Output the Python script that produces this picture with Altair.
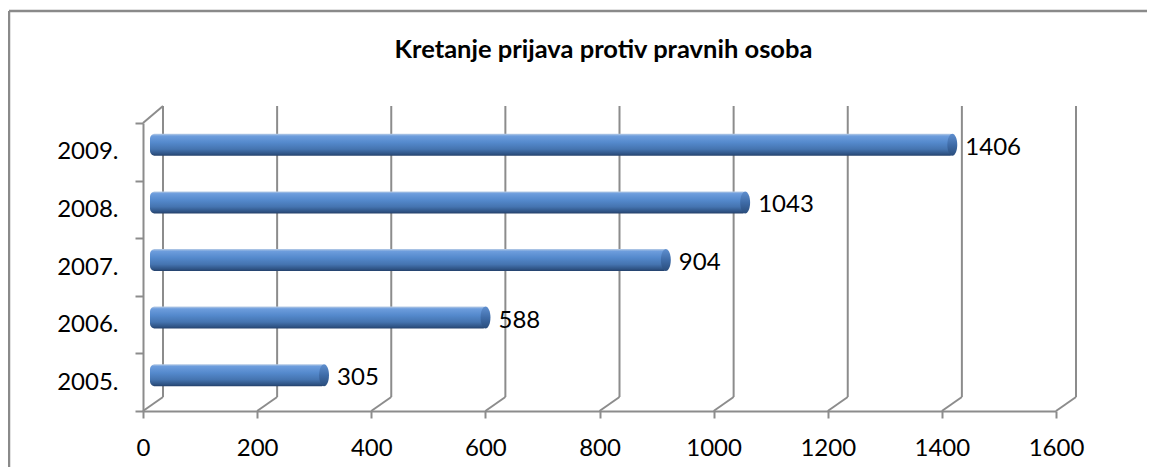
import altair as alt
import pandas as pd

# ---- data ----
years = ["2005.", "2006.", "2007.", "2008.", "2009."]
values = [305, 588, 904, 1043, 1406]
x_ticks = [0, 200, 400, 600, 800, 1000, 1200, 1400, 1600]
title_text = "Kretanje prijava protiv pravnih osoba"

df = pd.DataFrame({"year": years, "value": values})
ticks_df = pd.DataFrame({"value": x_ticks})
one = alt.Data(values=[{"k": 1}])

W, H = 913, 288
DX, DY = 20, -14           # 3D depth offset of back wall
FONT = "Lato"
GRID = "#8c8c8c"
year_order = list(reversed(years))

xscale = alt.Scale(domain=[0, 1600], nice=False, zero=True)
yscale = alt.Scale(domain=year_order, paddingInner=0, paddingOuter=0)

x_axis = alt.Axis(
    values=x_ticks, grid=False, title=None, format="d",
    domainColor=GRID, domainWidth=2, tickColor=GRID, tickWidth=2,
    tickSize=7, labelFont=FONT, labelFontSize=24, labelColor="#000",
    labelPadding=18, labelFlush=False,
)
y_axis = alt.Axis(
    title=None, grid=False, tickBand="extent",
    domainColor=GRID, domainWidth=2, tickColor=GRID, tickWidth=2,
    tickSize=8, labelFont=FONT, labelFontSize=24, labelColor="#000",
    labelPadding=17,
)

def X(field="value:Q"):
    return alt.X(field, scale=xscale, axis=x_axis, stack=None)

def Y():
    return alt.Y("year:N", scale=yscale, sort=year_order, axis=y_axis)

base = alt.Chart(df)

bar_grad = alt.Gradient(
    gradient="linear", x1=0, y1=0, x2=0, y2=1,
    stops=[
        alt.GradientStop(color="#b9cde6", offset=0.0),
        alt.GradientStop(color="#6d9ddd", offset=0.1),
        alt.GradientStop(color="#5489cc", offset=0.4),
        alt.GradientStop(color="#4574b0", offset=0.7),
        alt.GradientStop(color="#2e5283", offset=0.92),
        alt.GradientStop(color="#24406a", offset=1.0),
    ],
)
cap_grad = alt.Gradient(
    gradient="linear", x1=0, y1=0, x2=0, y2=1,
    stops=[
        alt.GradientStop(color="#5f8fcf", offset=0.0),
        alt.GradientStop(color="#3f6ca8", offset=0.5),
        alt.GradientStop(color="#2a4d7c", offset=1.0),
    ],
)

# back-wall gridlines
grid = alt.Chart(ticks_df).mark_rule(color=GRID, strokeWidth=2, xOffset=DX).encode(
    x=X(), y=alt.value(-17), y2=alt.value(H + DY),
)
# slanted floor connectors
floor = alt.Chart(ticks_df).mark_rule(color=GRID, strokeWidth=2, x2Offset=DX).encode(
    x=X(), x2=alt.X2("value"), y=alt.value(H), y2=alt.value(H + DY),
)
# slanted top of the left wall
top_slant = alt.Chart(one).mark_rule(color=GRID, strokeWidth=2).encode(
    x=alt.value(0), x2=alt.value(DX), y=alt.value(0), y2=alt.value(-17)
)

bars = base.mark_bar(
    height=22, cornerRadius=5, color=bar_grad,
    xOffset=9, x2Offset=7, yOffset=-7, y2Offset=-7,
).encode(x=X(), x2=alt.datum(0), y=Y())

caps = base.mark_point(
    shape="M0,-1 A0.45,1 0 1,1 0,1 A0.45,1 0 1,1 0,-1 Z",
    size=484, filled=True, fill=cap_grad, opacity=1, strokeWidth=0,
    xOffset=7, yOffset=-7,
).encode(x=X(), y=Y())

labels = base.mark_text(
    align="left", baseline="middle", dx=20, dy=-4,
    font=FONT, fontSize=24, color="#000",
).encode(x=X(), y=Y(), text=alt.Text("value:Q"))

title = alt.Chart(one).mark_text(
    text=title_text, font=FONT, fontSize=25.5, fontWeight="bold",
    color="#000", align="center", baseline="middle",
).encode(x=alt.value(W / 2 + 4), y=alt.value(-73))

# outer chart border (top and left edges visible)
border_top = alt.Chart(one).mark_rule(color="#8a8a8a", strokeWidth=2.5).encode(
    x=alt.value(-134), x2=alt.value(1010), y=alt.value(-112)
)
border_left = alt.Chart(one).mark_rule(color="#8a8a8a", strokeWidth=2.5).encode(
    x=alt.value(-134), y=alt.value(-112), y2=alt.value(400)
)

chart = alt.layer(
    border_top, border_left, grid, floor, top_slant, bars, caps, labels, title
).properties(
    width=W, height=H,
    autosize=alt.AutoSizeParams(type="none"),
    padding={"left": 135, "top": 115, "right": 91, "bottom": 56},
).configure_view(stroke=None)

chart.save("out.html", embed_options={"renderer": "svg", "actions": False})
